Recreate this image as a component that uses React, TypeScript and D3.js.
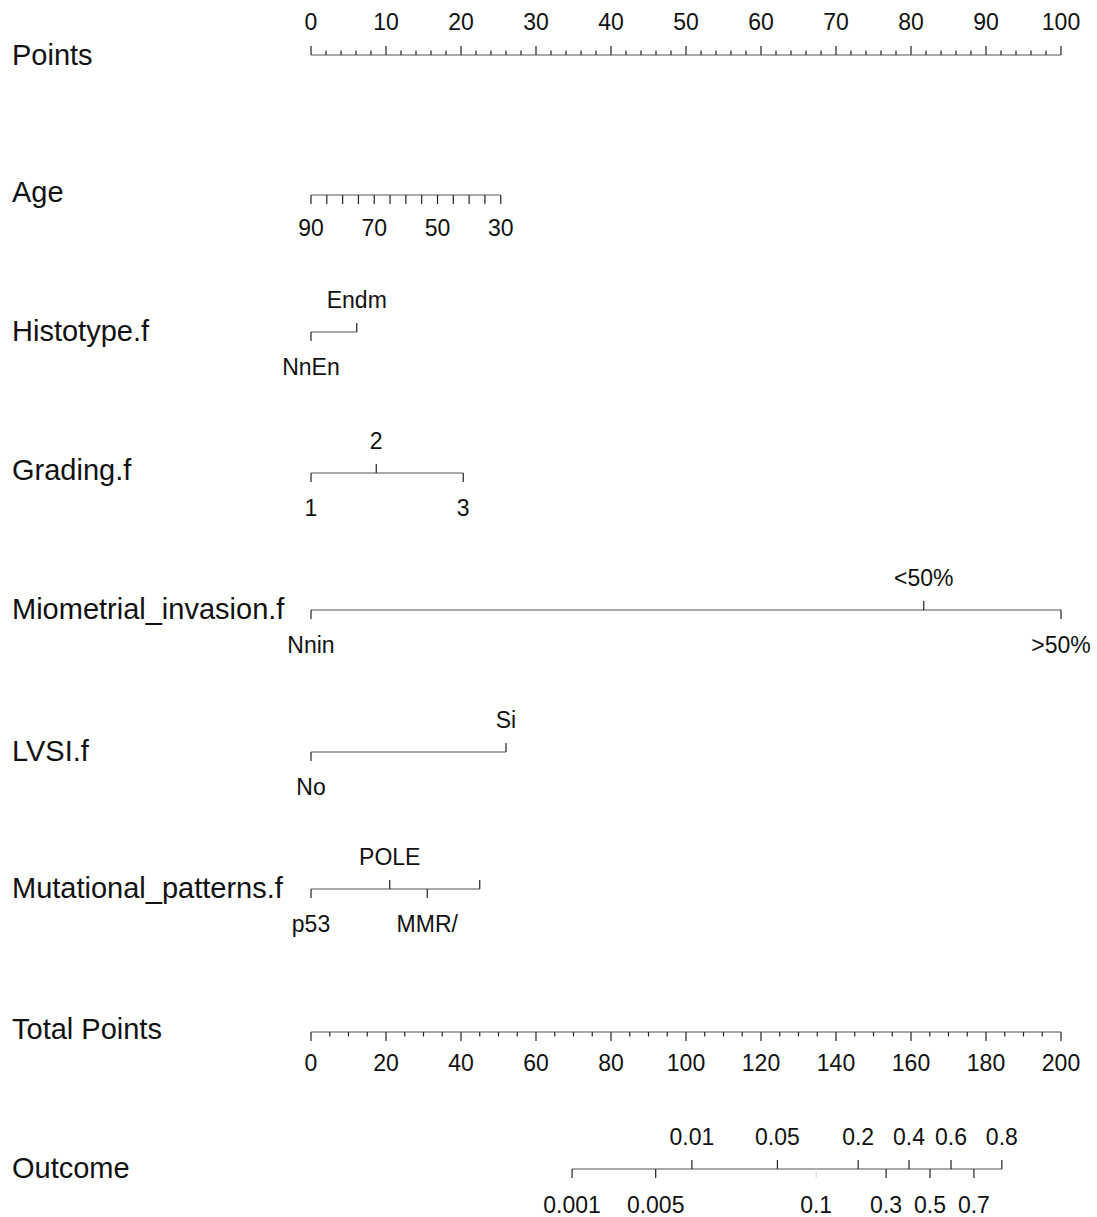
import React from "react";
import * as d3 from "d3";

// ---- Data ----
const rowLabels = [
  "Points",
  "Age",
  "Histotype.f",
  "Grading.f",
  "Miometrial_invasion.f",
  "LVSI.f",
  "Mutational_patterns.f",
  "Total Points",
  "Outcome",
];

const pointsMajor = [0, 10, 20, 30, 40, 50, 60, 70, 80, 90, 100];
const pointsMinorStep = 2;

const ageTicks = [90, 85, 80, 75, 70, 65, 60, 55, 50, 45, 40, 35, 30];
const ageLabels = [90, 70, 50, 30];
const ageRange = [90, 30];
const agePointsRange = [0, 25.3];

const histotypeLevels = ["NnEn", "Endm"];
const histotypePoints = [0, 6.1];

const gradingLevels = ["1", "2", "3"];
const gradingPoints = [0, 8.7, 20.3];

const miometrialLevels = ["Nnin", "<50%", ">50%"];
const miometrialPoints = [0, 81.7, 100];

const lvsiLevels = ["No", "Si"];
const lvsiPoints = [0, 26];

const mutationalLevels = ["p53", "POLE", "MMR/", ""];
const mutationalPoints = [0, 10.5, 15.5, 22.5];

const totalMajor = [0, 20, 40, 60, 80, 100, 120, 140, 160, 180, 200];
const totalMinorStep = 5;

const outcomeProbs = [0.001, 0.005, 0.01, 0.05, 0.1, 0.2, 0.3, 0.4, 0.5, 0.6, 0.7, 0.8];
const outcomeLabels = ["0.001", "0.005", "0.01", "0.05", "0.1", "0.2", "0.3", "0.4", "0.5", "0.6", "0.7", "0.8"];
const outcomeAbove = [false, false, true, true, false, true, false, true, false, true, false, true];
// total points = intercept + slope * logit(p)
const lpIntercept = 165.07;
const lpSlope = 13.82;

// ---- Layout ----
const W = 1097;
const H = 1217;
const X0 = 311;
const X1 = 1061;
const FONT = "'Liberation Sans', Arial, Helvetica, sans-serif";
const LABEL_SIZE = 29;
const TICK_SIZE = 23;
const LINE = "#555";
const TICK = "#222";
const TXT = "#111";
const rowY = [55, 195, 332, 473, 610, 752, 889, 1032, 1169];
const labelY = [55, 192, 331, 470, 609, 751, 888, 1029, 1168];

export default function App() {
  const ptsX = d3.scaleLinear().domain([0, 100]).range([X0, X1]);
  const totX = d3.scaleLinear().domain([0, 200]).range([X0, X1]);
  const ageToPts = d3.scaleLinear().domain(ageRange).range(agePointsRange);
  const logit = (p: number) => Math.log(p / (1 - p));

  const els: React.ReactNode[] = [];
  let k = 0;
  const line = (x1: number, y1: number, x2: number, y2: number, stroke = LINE) =>
    els.push(<line key={k++} x1={x1} y1={y1} x2={x2} y2={y2} stroke={stroke} strokeWidth={1.2} />);
  const text = (x: number, y: number, s: string, size = TICK_SIZE, anchor = "middle") =>
    els.push(
      <text key={k++} x={x} y={y} fontSize={size} textAnchor={anchor} dominantBaseline="central" fill={TXT} fontFamily={FONT}>
        {s}
      </text>
    );

  // Row labels
  rowLabels.forEach((l, i) => text(12, labelY[i], l, LABEL_SIZE, "start"));

  // Points axis (ticks up, labels above)
  {
    const y = rowY[0];
    line(ptsX(0), y, ptsX(100), y);
    d3.range(0, 100 + 0.001, pointsMinorStep).forEach((v) => {
      const major = pointsMajor.includes(v);
      line(ptsX(v), y, ptsX(v), y - (major ? 9 : 4.5), TICK);
    });
    pointsMajor.forEach((v) => text(ptsX(v), y - 33, String(v)));
  }

  // Age axis (ticks down, labels below)
  {
    const y = rowY[1];
    const xs = ageTicks.map((a) => ptsX(ageToPts(a)));
    line(d3.min(xs)!, y, d3.max(xs)!, y);
    ageTicks.forEach((a) => line(ptsX(ageToPts(a)), y, ptsX(ageToPts(a)), y + 9, TICK));
    ageLabels.forEach((a) => text(ptsX(ageToPts(a)), y + 33, String(a)));
  }

  // Categorical axes
  const cats: [string[], number[], number][] = [
    [histotypeLevels, histotypePoints, 2],
    [gradingLevels, gradingPoints, 3],
    [miometrialLevels, miometrialPoints, 4],
    [lvsiLevels, lvsiPoints, 5],
    [mutationalLevels, mutationalPoints, 6],
  ];
  cats.forEach(([levels, pts, row]) => {
    const y = rowY[row];
    const order = d3.range(levels.length).sort((a, b) => pts[a] - pts[b]);
    line(ptsX(d3.min(pts)!), y, ptsX(d3.max(pts)!), y);
    order.forEach((idx, j) => {
      const x = ptsX(pts[idx]);
      const above = j % 2 === 1;
      line(x, y, x, above ? y - 9 : y + 9, TICK);
      if (levels[idx]) text(x, above ? y - 32 : y + 35, levels[idx]);
    });
  });

  // Total points axis (ticks down, labels below)
  {
    const y = rowY[7];
    line(totX(0), y, totX(200), y);
    d3.range(0, 200 + 0.001, totalMinorStep).forEach((v) => {
      const major = totalMajor.includes(v);
      line(totX(v), y, totX(v), y + (major ? 9 : 4.5), TICK);
    });
    totalMajor.forEach((v) => text(totX(v), y + 31, String(v)));
  }

  // Outcome axis
  {
    const y = rowY[8];
    const tp = (p: number) => lpIntercept + lpSlope * logit(p);
    const xs = outcomeProbs.map((p) => totX(tp(p)));
    line(d3.min(xs)!, y, d3.max(xs)!, y);
    outcomeProbs.forEach((p, i) => {
      const x = totX(tp(p));
      const up = outcomeAbove[i];
      line(x, y, x, up ? y - 9 : y + 9, p === 0.1 ? "#ddd" : TICK);
      text(x, up ? y - 32 : y + 36, outcomeLabels[i]);
    });
  }

  return (
    <svg
      width={W}
      height={H}
      style={{ position: "absolute", left: 0, top: 0, background: "#fff" }}
    >
      <rect width={W} height={H} fill="#fff" />
      {els}
    </svg>
  );
}
